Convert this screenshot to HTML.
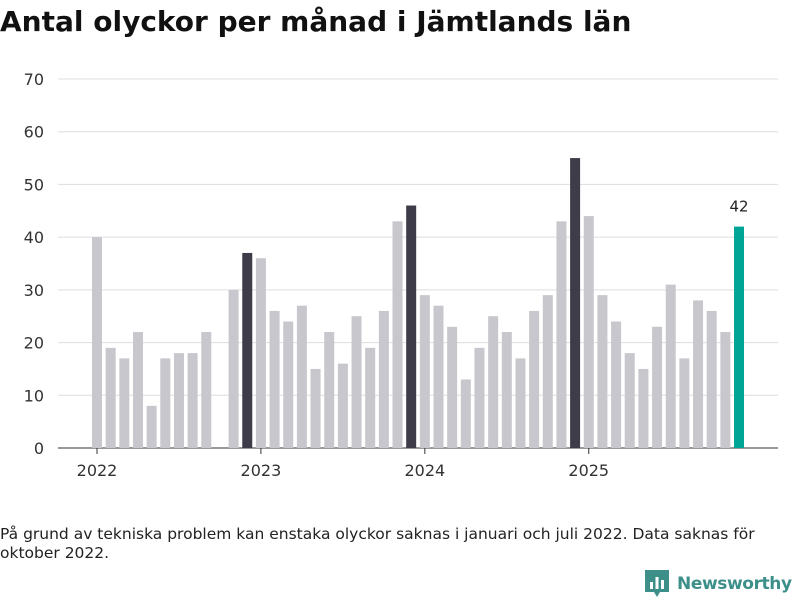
<!DOCTYPE html>
<html><head><meta charset="utf-8"><style>
body{margin:0;width:800px;height:600px;background:#fff;font-family:"DejaVu Sans","Liberation Sans",sans-serif;overflow:hidden;position:relative}
h1{position:absolute;left:0;top:5px;margin:0;font-size:28px;font-weight:bold;color:#111;letter-spacing:0px}
.note{position:absolute;left:0;top:525px;font-size:15.5px;color:#222;line-height:19px;width:790px}
.logo{position:absolute;left:645px;top:570px;display:flex;align-items:center;color:#3d8f8a;font-size:17px;font-weight:bold;letter-spacing:-0.4px}
svg text{font-family:"DejaVu Sans","Liberation Sans",sans-serif}
</style></head><body>
<h1>Antal olyckor per månad i Jämtlands län</h1>
<svg id="chart" width="800" height="500" style="position:absolute;left:0;top:0"></svg>
<div class="note">På grund av tekniska problem kan enstaka olyckor saknas i januari och juli 2022. Data saknas för oktober 2022.</div>
<div class="logo">
<svg width="24" height="28" viewBox="0 0 24 28" style="margin-right:8px"><path d="M0 0H24V22H15L12 27L9 22H0Z" fill="#3d8f8a"/><rect x="5" y="12" width="3" height="7" fill="#fff"/><rect x="10.5" y="7" width="3" height="12" fill="#fff"/><rect x="16" y="10" width="3" height="9" fill="#fff"/></svg>Newsworthy</div>
<script>
const values=[40,19,17,22,8,17,18,18,22,null,30,37,36,26,24,27,15,22,16,25,19,26,43,46,29,27,23,13,19,25,22,17,26,29,43,55,44,29,24,18,15,23,31,17,28,26,22,42];
const highlight=[11,23,35];
const yTicks=[0,10,20,30,40,50,60,70];
const yearLabels=["2022","2023","2024","2025"];
const svg=document.getElementById('chart');
const NS='http://www.w3.org/2000/svg';
const y=v=>448-v*(448-79)/70;
const x=i=>97+i*13.66;
function el(t,a){const e=document.createElementNS(NS,t);for(const k in a)e.setAttribute(k,a[k]);svg.appendChild(e);return e;}
yTicks.forEach(t=>{
 const l=el('line',{x1:58,x2:778,y1:y(t),y2:y(t),stroke:t===0?'#333':'#ddd','stroke-width':1});
 
 
 const tx=el('text',{x:44,y:y(t)+6,'text-anchor':'end','font-size':16,fill:'#333'});tx.textContent=t;
 
 
});
yearLabels.forEach((lab,k)=>{
 const xi=x(k*12);
 const tk=el('line',{x1:xi,x2:xi,y1:448,y2:454,stroke:'#333'});
 
 
 const tx=el('text',{x:xi,y:476,'text-anchor':'middle','font-size':16,fill:'#333'});tx.textContent=lab;
 
 
});
values.forEach((v,i)=>{
 if(v===null)return;
 let c='#c8c7cd';
 if(highlight.includes(i))c='#3d3c48';
 if(i===values.length-1)c='#00a595';
 const r=el('rect',{x:x(i)-5,y:y(v),width:10,height:448-y(v),fill:c});
 
 
});
const li=values.length-1;
const lt=el('text',{x:x(li),y:y(values[li])-15,'text-anchor':'middle','font-size':15,fill:'#222'});lt.textContent=values[li];


</script>
</body></html>
